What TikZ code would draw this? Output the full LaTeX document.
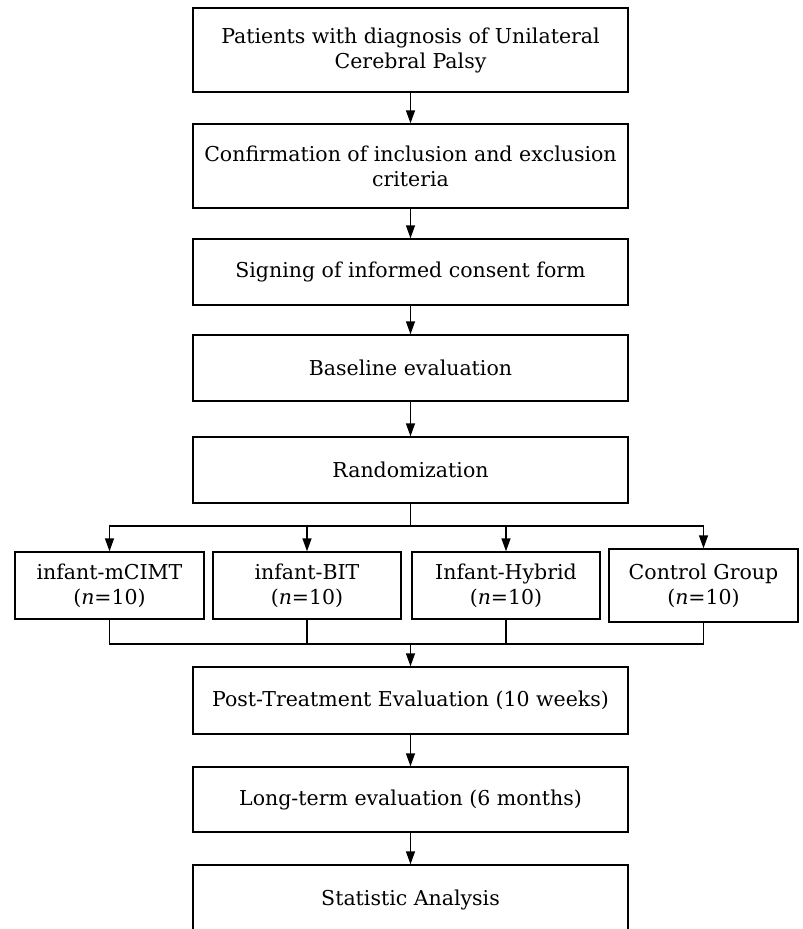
\documentclass[tikz,border=0pt]{standalone}
\usepackage{fontspec}
\setmainfont{DejaVu Serif}
\usetikzlibrary{arrows.meta}
\begin{document}
\begin{tikzpicture}[x=1pt,y=-1pt,
  line width=1.4pt,
  box/.style={draw, rectangle, inner sep=0pt, align=center,
    font=\fontsize{20.5}{25}\selectfont},
  mainbox/.style={box, minimum width=435pt},
  grp/.style={box, minimum width=188pt, minimum height=67pt},
  arr/.style={-{Triangle[length=13pt,width=9pt]}}]
\clip (0,0) rectangle (803,929);
\fill[white] (0,0) rectangle (803,929);
\node[mainbox, minimum height=84pt] (b1) at (410.5,50) {Patients with diagnosis of Unilateral\\Cerebral Palsy};
\node[mainbox, minimum height=84pt] (b2) at (410.5,166) {Confirmation of inclusion and exclusion\\criteria};
\node[mainbox, minimum height=66pt] (b3) at (410.5,272) {Signing of informed consent form};
\node[mainbox, minimum height=66pt] (b4) at (410.5,368) {Baseline evaluation};
\node[mainbox, minimum height=66pt] (b5) at (410.5,470) {Randomization};
\node[grp, minimum width=189pt] (g1) at (109.5,585.5) {infant-mCIMT\\(\textit{n}=10)};
\node[grp] (g2) at (307,585.5) {infant-BIT\\(\textit{n}=10)};
\node[grp] (g3) at (506,585.5) {Infant-Hybrid\\(\textit{n}=10)};
\node[grp, minimum width=189pt, minimum height=73pt] (g4) at (703.5,585.5) {Control Group\\(\textit{n}=10)};
\node[mainbox, minimum height=67pt] (b6) at (410.5,700.5) {Post-Treatment Evaluation (10 weeks)};
\node[mainbox, minimum height=65pt] (b7) at (410.5,799.5) {Long-term evaluation (6 months)};
\node[mainbox, minimum height=70pt] (b8) at (410.5,900) {Statistic Analysis};
\draw[arr] (b1) -- (b2);
\draw[arr] (b2) -- (b3);
\draw[arr] (b3) -- (b4);
\draw[arr] (b4) -- (b5);
\coordinate (split) at (410.5,526);
\coordinate (join) at (410.5,644);
\draw (b5.south) -- (split);
\draw[arr] (split) -| (g1.north);
\draw[arr] (split) -| (g2.north);
\draw[arr] (split) -| (g3.north);
\draw[arr] (split) -| (g4.north);
\draw (g1.south) |- (join);
\draw (g4.south) |- (join);
\draw (g2.south) -- (g2.south |- join);
\draw (g3.south) -- (g3.south |- join);
\draw[arr] (join) -- (b6.north);
\draw[arr] (b6) -- (b7);
\draw[arr] (b7) -- (b8);
\end{tikzpicture}
\end{document}
